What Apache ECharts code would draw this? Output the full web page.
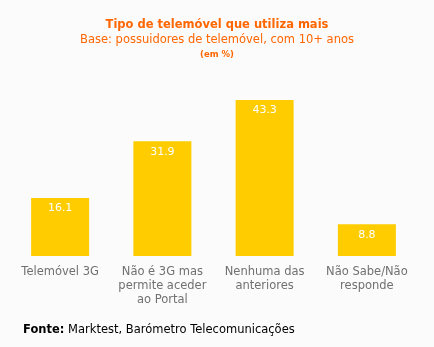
<!DOCTYPE html>
<html><head><meta charset="utf-8">
<script src="https://cdn.jsdelivr.net/npm/echarts@6/dist/echarts.min.js"></script>
<style>html,body{margin:0;padding:0;background:#fbfbfb}#c{width:434px;height:347px}</style>
</head><body><div id="c"></div>
<script>
const categories = ["Telemóvel 3G", "Não é 3G mas\npermite aceder\nao Portal", "Nenhuma das\nanteriores", "Não Sabe/Não\nresponde"];
const values = [16.1, 31.9, 43.3, 8.8];
const FONT = "DejaVu Sans, Verdana, sans-serif";
const chart = echarts.init(document.getElementById('c'));
chart.setOption({
  backgroundColor: '#fbfbfb',
  animation: false,
  title: [
    {text: 'Tipo de telemóvel que utiliza mais', left: 'center', top: 14,
     textStyle: {color: '#ff6600', fontSize: 11.5, fontWeight: 'bold', fontFamily: FONT}},
    {text: 'Base: possuidores de telemóvel, com 10+ anos', left: 'center', top: 29,
     textStyle: {color: '#ff6600', fontSize: 11.5, fontWeight: 'normal', fontFamily: FONT}},
    {text: '(em %)', left: 'center', top: 45,
     textStyle: {color: '#ff6600', fontSize: 8.5, fontWeight: 'bold', fontFamily: FONT}},
    {text: '{b|Fonte:} Marktest, Barómetro Telecomunicações', left: 18, top: 319,
     textStyle: {color: '#000', fontSize: 11.5, fontWeight: 'normal', fontFamily: FONT,
       rich: {b: {fontWeight: 'bold', fontSize: 11.5, fontFamily: FONT, color: '#000'}}}}
  ],
  grid: {left: 9, right: 16, top: 76, height: 180, containLabel: false},
  xAxis: {
    type: 'category', data: categories,
    axisLine: {show: false}, axisTick: {show: false},
    axisLabel: {color: '#707070', fontSize: 11.5, fontFamily: FONT, lineHeight: 14, margin: 9, interval: 0}
  },
  yAxis: {type: 'value', min: 0, max: 50, show: false, splitLine: {show: false}},
  series: [{
    type: 'bar', data: values, barWidth: 58,
    itemStyle: {color: '#ffcc00'},
    label: {show: true, position: 'insideTop', distance: 5, color: '#fff', fontSize: 11, fontFamily: FONT,
      formatter: p => p.value.toFixed(1)}
  }]
});
</script></body></html>
